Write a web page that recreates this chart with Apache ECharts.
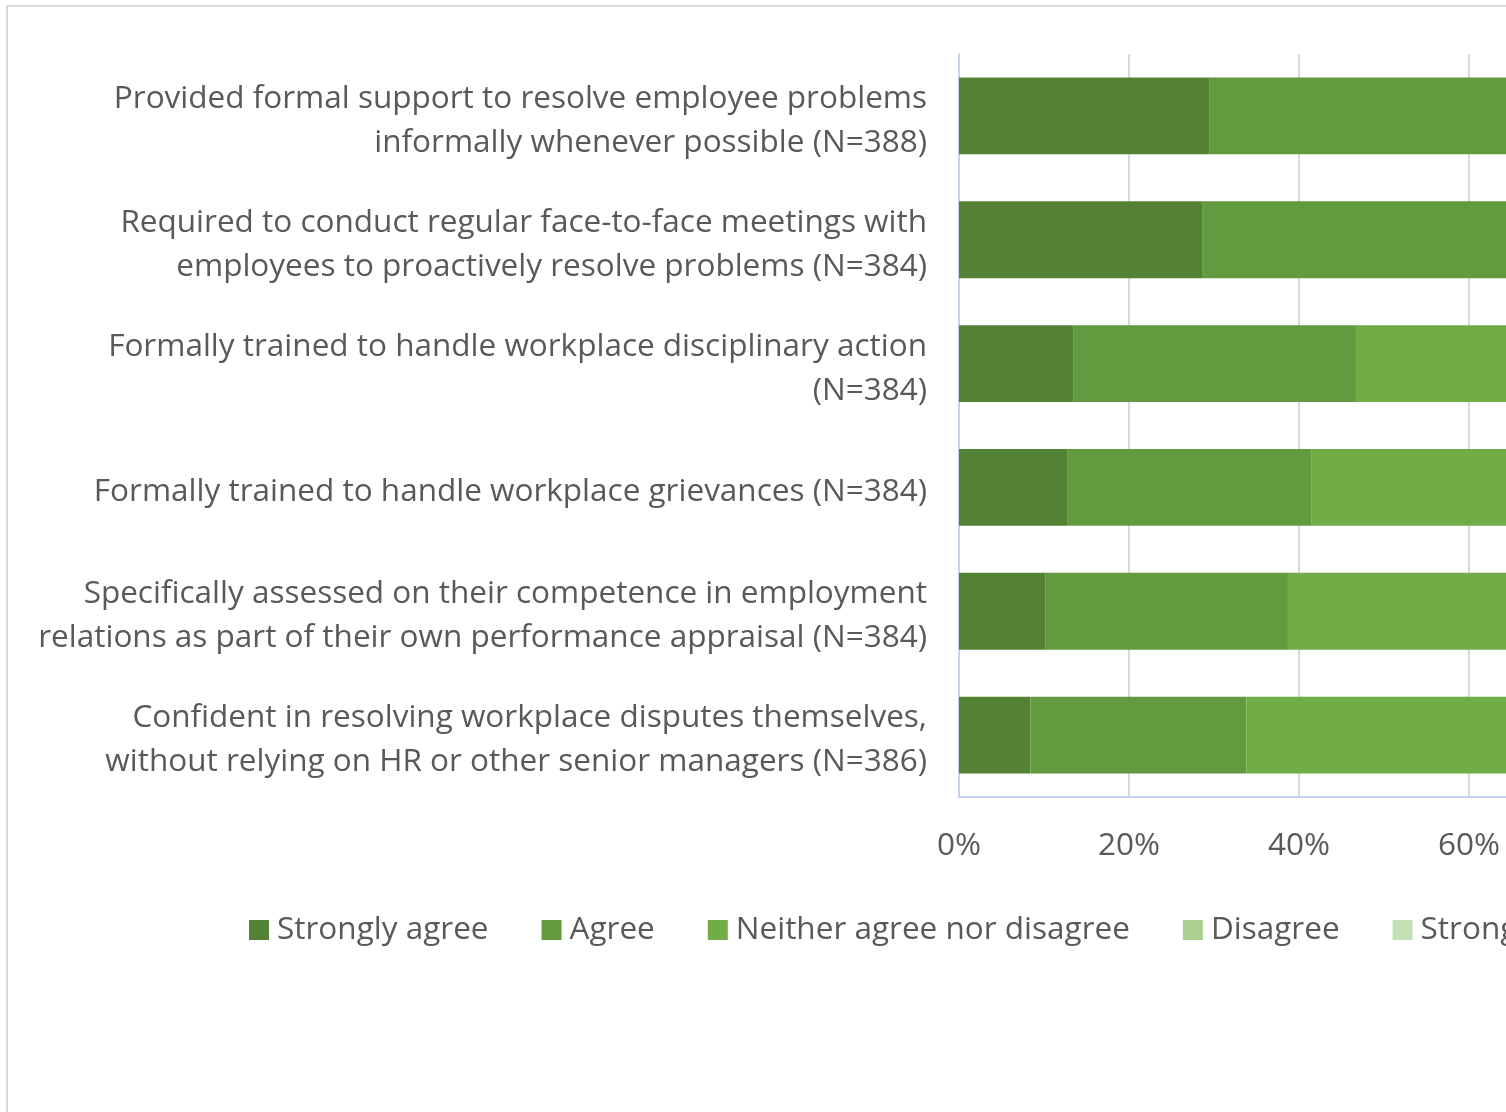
<!DOCTYPE html>
<html>
<head>
<meta charset="utf-8">
<script src="https://cdn.jsdelivr.net/npm/echarts@6/dist/echarts.min.js"></script>
<style>
  html, body { margin: 0; padding: 0; background: #fff; overflow: hidden; }
  #chart { width: 1900px; height: 1112px; }
</style>
</head>
<body>
<div id="chart"></div>
<script>
// Survey statements (top to bottom)
const categories = [
  "Provided formal support to resolve employee problems\ninformally whenever possible (N=388)",
  "Required to conduct regular face-to-face meetings with\nemployees to proactively resolve problems (N=384)",
  "Formally trained to handle workplace disciplinary action\n(N=384)",
  "Formally trained to handle workplace grievances (N=384)",
  "Specifically assessed on their competence in employment\nrelations as part of their own performance appraisal (N=384)",
  "Confident in resolving workplace disputes themselves,\nwithout relying on HR or other senior managers (N=386)"
];

// Response shares, percent
const stronglyAgree    = [29.5, 28.6, 13.5, 12.8, 10.2, 8.4];
const agree            = [41.5, 40.2, 33.2, 28.7, 28.5, 25.4];
const neither          = [18.0, 19.0, 28.0, 30.0, 31.0, 33.0];
const disagree         = [8.0, 9.0, 18.5, 20.5, 21.3, 24.0];
const stronglyDisagree = [3.0, 3.2, 6.8, 8.0, 9.0, 9.2];

const seriesNames = ["Strongly agree", "Agree", "Neither agree nor disagree", "Disagree", "Strongly disagree"];
const seriesData = [stronglyAgree, agree, neither, disagree, stronglyDisagree];
const seriesColors = ["#548235", "#629a3f", "#70ad47", "#a9d08e", "#c5e0b4"];

const FONT = "Open Sans";
const TEXT = "#595959";
const SIZE = 31.5;

const chart = echarts.init(document.getElementById("chart"), null, { renderer: "canvas" });

chart.setOption({
  animation: false,
  color: seriesColors,
  graphic: [{
    type: "rect",
    shape: { x: 7, y: 6, width: 1880, height: 1200 },
    style: { fill: "none", stroke: "#d9d9d9", lineWidth: 2 },
    silent: true
  }],
  legend: {
    left: 244,
    top: 909,
    itemWidth: 20,
    itemHeight: 20,
    itemGap: 53,
    icon: "rect",
    textStyle: { fontFamily: FONT, fontSize: SIZE, color: TEXT, padding: [0, 0, 0, 3] },
    data: seriesNames
  },
  grid: { left: 959, right: 91, top: 54, bottom: 315, containLabel: false },
  xAxis: {
    type: "value",
    min: 0,
    max: 100,
    interval: 20,
    axisLine: { show: true, lineStyle: { color: "#c5d4ee", width: 2 } },
    axisTick: { show: false },
    splitLine: { show: true, lineStyle: { color: "#d9d9d9", width: 2 } },
    axisLabel: {
      formatter: "{value}%",
      margin: 33,
      fontFamily: FONT,
      fontSize: SIZE,
      color: TEXT
    }
  },
  yAxis: {
    type: "category",
    inverse: true,
    data: categories,
    axisLine: { show: true, lineStyle: { color: "#c5d4ee", width: 2 } },
    axisTick: { show: false },
    axisLabel: {
      margin: 32,
      fontFamily: FONT,
      fontSize: SIZE,
      lineHeight: 44,
      color: TEXT,
      align: "right",
      // small spacer line above each label nudges the text block down a little
      formatter: (v) => "{s| }\n" + v.split("\n").map((l) => "{t|" + l + "}").join("\n"),
      rich: {
        s: { fontSize: 1, lineHeight: 10 },
        t: { fontFamily: FONT, fontSize: SIZE, lineHeight: 44, color: TEXT }
      }
    }
  },
  series: seriesNames.map((name, i) => ({
    name: name,
    type: "bar",
    stack: "total",
    barCategoryGap: "38%",
    data: seriesData[i],
    itemStyle: { color: seriesColors[i] }
  }))
});
</script>
</body>
</html>
